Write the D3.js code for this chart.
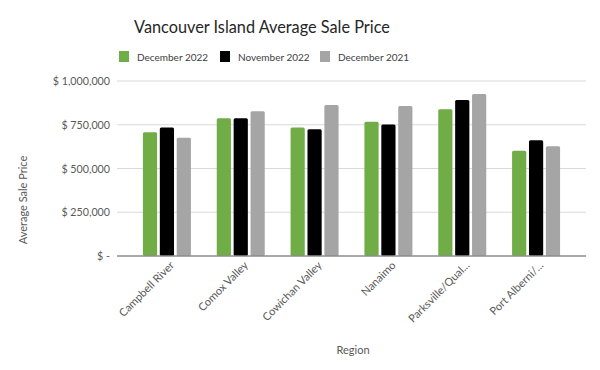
<!DOCTYPE html>
<html>
<head>
<meta charset="utf-8">
<script src="https://cdn.jsdelivr.net/npm/d3@7"></script>
<style>
  body { margin: 0; background: #fff; }
  text { font-family: Lato, "Open Sans", sans-serif; }
</style>
</head>
<body>
<div id="chart"></div>
<script>
// data
const regions = ["Campbell River", "Comox Valley", "Cowichan Valley", "Nanaimo", "Parksville/Qual...", "Port Alberni/..."];
const seriesNames = ["December 2022", "November 2022", "December 2021"];
const dec2022 = [707000, 787000, 735000, 767000, 838000, 602000];
const nov2022 = [735000, 787000, 724000, 752000, 891000, 661000];
const dec2021 = [676000, 827000, 863000, 857000, 926000, 627000];
const yTicks = [0, 250000, 500000, 750000, 1000000];
const colors = ["#70ad47", "#000000", "#a5a5a5"];

const width = 600, height = 370;
const series = [dec2022, nov2022, dec2021];

const svg = d3.select("#chart").append("svg")
    .attr("width", width)
    .attr("height", height);

const x = d3.scaleBand()
    .domain(regions)
    .range([130, 573]);

const x1 = d3.scaleBand()
    .domain(seriesNames)
    .range([0, 48])
    .paddingInner(0.16);

const y = d3.scaleLinear()
    .domain([0, 1000000])
    .range([256, 81]);

// gridlines
svg.append("g")
    .selectAll("line")
    .data(yTicks.slice(1))
    .enter()
    .append("line")
    .attr("x1", 117).attr("x2", 586)
    .attr("y1", d => y(d)).attr("y2", d => y(d))
    .attr("stroke", "#d9d9d9")
    .attr("stroke-width", 1);

// y tick labels
const fmt = d3.format(",");
svg.append("g")
    .selectAll("text")
    .data(yTicks)
    .enter()
    .append("text")
    .attr("x", 110)
    .attr("y", d => y(d) + 4)
    .attr("text-anchor", "end")
    .attr("font-size", 10.7)
    .attr("fill", "#595959")
    .text(d => d === 0 ? "$ -" : "$ " + fmt(d));

// bars
const group = svg.append("g")
    .selectAll("g")
    .data(regions)
    .enter()
    .append("g")
    .attr("transform", d => "translate(" + (x(d) + x.bandwidth() / 2 - 24) + ",0)");

group.selectAll("rect")
    .data((d, i) => series.map((s, j) => ({ name: seriesNames[j], value: s[i], c: colors[j] })))
    .enter()
    .append("rect")
    .attr("x", d => x1(d.name))
    .attr("width", x1.bandwidth())
    .attr("y", d => y(d.value))
    .attr("height", d => y(0) - y(d.value))
    .attr("rx", 1.5)
    .attr("fill", d => d.c);

// baseline
svg.append("line")
    .attr("x1", 117).attr("x2", 586)
    .attr("y1", y(0)).attr("y2", y(0))
    .attr("stroke", "#8c8c8c")
    .attr("stroke-width", 1.5);

// x labels, rotated
svg.append("g")
    .selectAll("text")
    .data(regions)
    .enter()
    .append("text")
    .attr("text-anchor", "end")
    .attr("font-size", 11)
    .attr("fill", "#595959")
    .attr("transform", d => "translate(" + (x(d) + x.bandwidth() / 2 + 8) + ",266) rotate(-45)")
    .text(d => d);

// axis titles
svg.append("text")
    .attr("x", 353).attr("y", 354)
    .attr("text-anchor", "middle")
    .attr("font-size", 11)
    .attr("fill", "#595959")
    .text("Region");

svg.append("text")
    .attr("transform", "translate(27,200) rotate(-90)")
    .attr("text-anchor", "middle")
    .attr("font-size", 11)
    .attr("fill", "#595959")
    .text("Average Sale Price");

// title
svg.append("text")
    .attr("x", 262).attr("y", 33)
    .attr("text-anchor", "middle")
    .attr("font-size", 16.3)
    .attr("fill", "#262626")
    .text("Vancouver Island Average Sale Price");

// legend
const legendX = [119, 220, 320];
const legend = svg.append("g")
    .selectAll("g")
    .data(seriesNames)
    .enter()
    .append("g")
    .attr("transform", (d, i) => "translate(" + legendX[i] + ",51)");

legend.append("rect")
    .attr("width", 10).attr("height", 11)
    .attr("fill", (d, i) => colors[i]);

legend.append("text")
    .attr("x", 18).attr("y", 10)
    .attr("font-size", 10)
    .attr("fill", "#404040")
    .text(d => d);
</script>
</body>
</html>
